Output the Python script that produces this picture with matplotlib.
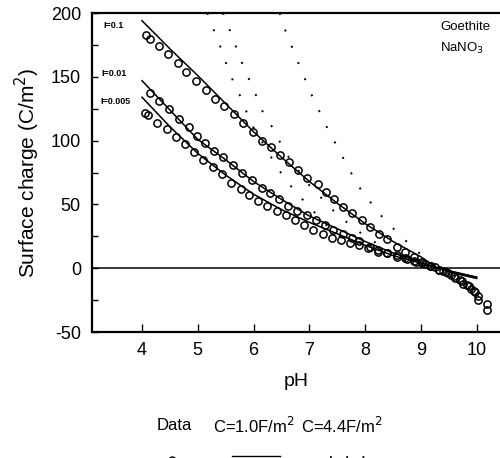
import matplotlib
matplotlib.use("Agg")
import matplotlib.pyplot as plt
from matplotlib.lines import Line2D
from matplotlib.ticker import MultipleLocator

plt.rcParams['font.family'] = ['Liberation Sans', 'DejaVu Sans']
plt.rcParams['axes.unicode_minus'] = False

# measured data (open circles)
ph_01 = [4.07, 4.14, 4.30, 4.47, 4.65, 4.79, 4.97, 5.15, 5.31, 5.47, 5.65, 5.81, 5.99,
         6.15, 6.31, 6.47, 6.63, 6.80, 6.96, 7.15, 7.30, 7.44, 7.60, 7.76, 7.94, 8.09,
         8.25, 8.40, 8.57, 8.72, 8.88, 9.03, 9.18, 9.33, 9.48, 9.62, 9.76, 9.90, 10.02, 10.18]
sig_01 = [183, 180, 174, 168, 161, 154, 147, 140, 133, 127, 121, 114, 107,
          100, 95, 89, 83, 77, 71, 66, 60, 54, 48, 43, 38, 32,
          27, 23, 17, 13, 9, 5, 2, -1, -4, -8, -12, -16, -22, -28]

ph_001 = [4.14, 4.30, 4.48, 4.66, 4.84, 4.98, 5.13, 5.29, 5.45, 5.63, 5.79, 5.97, 6.15,
          6.29, 6.46, 6.62, 6.78, 6.96, 7.12, 7.28, 7.42, 7.60, 7.76, 7.90, 8.09, 8.23,
          8.39, 8.57, 8.72, 8.88, 9.02, 9.17, 9.32, 9.46, 9.60, 9.74, 9.87, 9.98, 10.03]
sig_001 = [137, 131, 125, 117, 111, 104, 98, 92, 87, 81, 75, 69, 63,
           59, 54, 49, 45, 42, 38, 34, 30, 27, 24, 21, 17, 14,
           12, 10, 8, 6, 4, 2, -1, -3, -6, -10, -14, -19, -25]

ph_0005 = [4.06, 4.10, 4.27, 4.45, 4.61, 4.77, 4.93, 5.09, 5.27, 5.43, 5.60, 5.77, 5.92,
           6.08, 6.24, 6.42, 6.58, 6.74, 6.90, 7.06, 7.24, 7.40, 7.56, 7.73, 7.89, 8.05,
           8.23, 8.39, 8.57, 8.75, 8.92, 9.08, 9.25, 9.40, 9.55, 9.70, 9.83, 9.95, 10.18]
sig_0005 = [122, 120, 114, 109, 103, 97, 91, 85, 79, 74, 67, 62, 57,
            53, 49, 45, 42, 38, 34, 30, 27, 24, 22, 20, 18, 16,
            13, 12, 9, 7, 5, 3, 1, -2, -5, -9, -13, -18, -33]

# model, C = 1.0 F/m2 (solid)
ph_c1 = [4.0, 4.5, 5.0, 5.5, 6.0, 6.5, 7.0, 7.5, 8.0, 8.5, 9.0, 9.3, 9.6, 10.0]
c1_01 = [194, 172, 151, 129, 107, 87, 68, 51, 35, 21, 9, 0, -4, -8]
c1_001 = [147, 124, 101, 85, 68, 54, 41, 31, 21, 12, 5, 0, -3, -7]
c1_0005 = [134, 111, 90, 73, 58, 46, 36, 27, 18, 10, 4, 0, -3, -7]

# model, C = 4.4 F/m2 (dotted)
ph_c4_01 = [6.47, 6.51, 6.83, 7.06, 7.31, 7.60, 7.87, 8.23, 8.44, 8.86, 9.30]
c4_01 = [200, 193, 158, 134, 111, 87, 65, 44, 34, 16, 0]
ph_c4_001 = [5.45, 5.52, 5.81, 5.94, 6.06, 6.17, 6.33, 6.46, 6.60, 7.0, 7.5, 8.0, 8.5, 9.0, 9.3]
c4_001 = [200, 193, 159, 146, 134, 122, 111, 100, 89, 65, 42, 25, 12, 4, 0]
ph_c4_0005 = [5.17, 5.22, 5.43, 5.52, 5.63, 5.76, 5.88, 5.99, 6.29, 6.44, 6.62, 6.81,
              7.01, 7.19, 7.37, 7.51, 8.0, 8.5, 9.0, 9.3]
c4_0005 = [200, 194, 171, 159, 147, 135, 122, 111, 89, 78, 67, 57,
           48, 39, 31, 26, 15, 8, 3, 0]

labels_I = ['I=0.1', 'I=0.01', 'I=0.005']

fig = plt.figure(figsize=(5.0, 4.58), dpi=100)
ax = fig.add_axes([0.184, 0.275, 0.816, 0.6966])

dots = (0, (1.0, 8))
for x, y in [(ph_c4_01, c4_01), (ph_c4_001, c4_001), (ph_c4_0005, c4_0005)]:
    ax.plot(x, y, color='black', lw=1.4, linestyle=dots)
for y in [c1_01, c1_001, c1_0005]:
    ax.plot(ph_c1, y, color='black', lw=1.1)
for x, y in [(ph_01, sig_01), (ph_001, sig_001), (ph_0005, sig_0005)]:
    ax.plot(x, y, linestyle='none', marker='o', ms=5.2, mfc='none', mec='black', mew=1.1)

ax.axhline(0, color='black', lw=1.1)

ax.set_xlim(3.104, 10.42)
ax.set_ylim(-50, 200)
ax.xaxis.set_major_locator(MultipleLocator(1))
ax.yaxis.set_major_locator(MultipleLocator(50))
ax.yaxis.set_minor_locator(MultipleLocator(25))
ax.tick_params(axis='x', direction='in', length=6, width=1.0, pad=7, labelsize=13)
ax.tick_params(axis='y', which='both', direction='in', length=4, width=1.0, pad=8, labelsize=13)
ax.spines['right'].set_visible(False)
for s in ['left', 'bottom', 'top']:
    ax.spines[s].set_linewidth(1.6)

ax.set_xlabel('pH', fontsize=14, labelpad=10)
ax.set_ylabel('Surface charge (C/m$^2$)', fontsize=15, labelpad=6)

for lab, px, py in zip(labels_I, [103, 101, 100], [25, 73, 101]):
    fig.text(px / 500, 1 - py / 458, lab, fontsize=6.5, fontweight='bold', va='center', ha='left')

fig.text(440 / 500, 1 - 27 / 458, 'Goethite', fontsize=9.5, va='center')
fig.text(440 / 500, 1 - 48 / 458, 'NaNO$_3$', fontsize=9.5, va='center')

# legend row at the bottom (symbols are cut by the lower edge)
fig.text(174 / 500, 1 - 426 / 458, 'Data', fontsize=12, ha='center', va='center')
fig.text(254 / 500, 1 - 426 / 458, 'C=1.0F/m$^2$', fontsize=12, ha='center', va='center')
fig.text(342 / 500, 1 - 426 / 458, 'C=4.4F/m$^2$', fontsize=12, ha='center', va='center')
fig.add_artist(Line2D([172 / 500], [1 - 460 / 458], transform=fig.transFigure, marker='o',
                      ms=5, mfc='none', mec='black', mew=1.0, linestyle='none'))
fig.add_artist(Line2D([232 / 500, 280 / 500], [1 - 456 / 458] * 2, transform=fig.transFigure,
                      color='black', lw=1.0))
fig.add_artist(Line2D([330 / 500, 372 / 500], [1 - 457 / 458] * 2, transform=fig.transFigure,
                      color='black', lw=1.3, linestyle=dots))

fig.savefig('out.png', dpi=100)
